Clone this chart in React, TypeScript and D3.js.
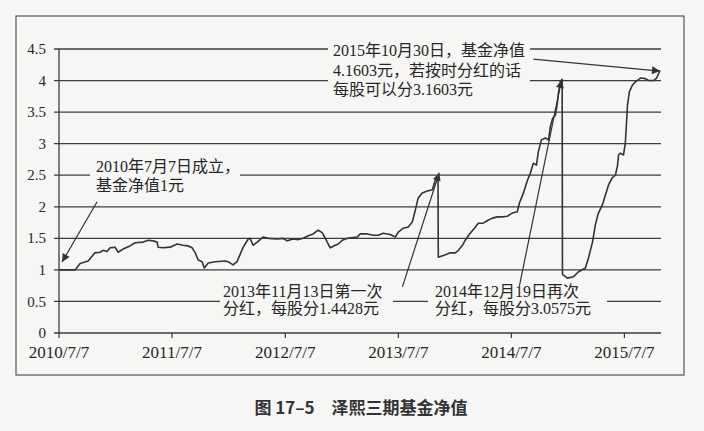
import React from "react";
import * as d3 from "d3";

const dates = [
  "2010-07-07","2010-08-28","2010-09-13","2010-10-09","2010-10-31","2010-11-17","2010-11-26","2010-12-09","2010-12-19",
  "2011-01-04","2011-01-14","2011-01-30","2011-02-21","2011-03-10","2011-04-05","2011-04-21","2011-05-07","2011-05-20",
  "2011-05-23","2011-06-08","2011-07-01","2011-07-23","2011-08-12","2011-08-28","2011-09-10","2011-09-20","2011-09-29",
  "2011-10-12","2011-10-19","2011-11-01","2011-11-23","2011-12-26","2012-01-04","2012-01-20","2012-02-02","2012-02-22",
  "2012-03-09","2012-03-15","2012-03-25","2012-04-07","2012-04-26","2012-05-13","2012-06-11","2012-06-30","2012-07-13",
  "2012-08-01","2012-08-18","2012-09-03","2012-09-19","2012-10-05","2012-10-21","2012-11-03","2012-11-13","2012-11-29",
  "2012-12-15","2012-12-25","2013-01-07","2013-01-23","2013-02-24","2013-03-06","2013-03-29","2013-04-17","2013-05-03",
  "2013-05-19","2013-06-11","2013-06-27","2013-07-07","2013-07-23","2013-08-08","2013-08-21","2013-08-31","2013-09-09",
  "2013-09-22","2013-10-09","2013-10-25","2013-11-03","2013-11-12","2013-11-13","2013-12-06","2013-12-22","2014-01-07",
  "2014-01-17","2014-01-30","2014-02-08","2014-02-24","2014-03-13","2014-03-22","2014-04-07","2014-04-24","2014-05-07",
  "2014-05-23","2014-06-08","2014-06-24","2014-07-10","2014-07-26","2014-08-02","2014-08-15","2014-08-28","2014-09-06",
  "2014-09-16","2014-09-26","2014-10-02","2014-10-12","2014-10-25","2014-11-04","2014-11-10","2014-11-17","2014-11-26",
  "2014-12-03","2014-12-06","2014-12-12","2014-12-18","2014-12-19","2015-01-04","2015-01-23","2015-02-09","2015-03-03",
  "2015-03-13","2015-03-26","2015-04-04","2015-04-14","2015-04-27","2015-05-07","2015-05-17","2015-05-29","2015-06-08",
  "2015-06-15","2015-06-18","2015-06-24","2015-07-04","2015-07-10","2015-07-14","2015-07-17","2015-07-23","2015-08-02",
  "2015-08-12","2015-08-28","2015-09-13","2015-09-23","2015-10-09","2015-10-19","2015-10-30",
];

const nav = [
  1.00,1.00,1.10,1.14,1.27,1.28,1.31,1.29,1.35,
  1.36,1.28,1.33,1.38,1.43,1.44,1.47,1.46,1.44,
  1.36,1.35,1.36,1.41,1.39,1.38,1.35,1.27,1.16,
  1.13,1.03,1.11,1.13,1.14,1.13,1.08,1.13,1.36,
  1.49,1.50,1.39,1.44,1.52,1.50,1.49,1.50,1.46,
  1.49,1.48,1.50,1.54,1.57,1.63,1.59,1.50,1.35,
  1.39,1.41,1.47,1.50,1.52,1.57,1.57,1.55,1.55,
  1.58,1.56,1.52,1.60,1.66,1.68,1.76,1.95,2.14,
  2.22,2.25,2.27,2.42,2.50,1.20,1.24,1.27,1.27,
  1.31,1.39,1.47,1.58,1.68,1.74,1.74,1.79,1.82,
  1.84,1.84,1.85,1.90,1.92,2.06,2.22,2.42,2.53,
  2.69,2.66,2.87,3.06,3.09,3.06,3.27,3.40,3.45,
  3.66,3.80,3.98,4.02,0.93,0.87,0.89,0.97,1.03,
  1.19,1.44,1.71,1.90,2.03,2.19,2.35,2.46,2.50,
  2.66,2.82,2.85,2.82,3.01,3.34,3.61,3.82,3.93,
  3.98,4.04,4.03,4.00,4.00,4.04,4.16,
];

const yTicks = [0, 0.5, 1, 1.5, 2, 2.5, 3, 3.5, 4, 4.5];
const xTickDates = ["2010-07-07","2011-07-07","2012-07-07","2013-07-07","2014-07-07","2015-07-07"];
const xTickLabels = ["2010/7/7","2011/7/7","2012/7/7","2013/7/7","2014/7/7","2015/7/7"];

const noteLaunch = ["2010年7月7日成立，", "基金净值1元"];
const noteFirst = ["2013年11月13日第一次", "分红，每股分1.4428元"];
const noteSecond = ["2014年12月19日再次", "分红，每股分3.0575元"];
const noteLast = ["2015年10月30日，基金净值", "4.1603元，若按时分红的话", "每股可以分3.1603元"];
const caption = "图 17–5　泽熙三期基金净值";

// arrow anchors in data space: [tailDate, tailValue, tipDate, tipValue]
const arrowLaunch = ["2010-11-07", 2.08, "2010-07-17", 1.125];
const arrowFirst = ["2013-07-20", 0.73, "2013-11-16", 2.54];
const arrowSecond = ["2014-08-02", 0.745, "2014-12-16", 4.01];
const arrowLast = ["2014-09-16", 4.34, "2015-10-30", 4.15];

const W = 704, H = 431;
const BG = "#f6f6f4";
const INK = "#333";
const SERIF = "'Liberation Serif', 'Times New Roman', 'Noto Sans CJK SC', serif";
const parse = d3.utcParse("%Y-%m-%d");

export default function App() {
  const x = d3.scaleUtc().domain([parse("2010-07-07")!, parse("2015-10-30")!]).range([59, 660]);
  const y = d3.scaleLinear().domain([0, 4.5]).range([333, 49]);
  const pts = dates.map((d, i) => [x(parse(d)!), y(nav[i])] as [number, number]);
  const line = d3.line().curve(d3.curveLinear)(pts) || "";

  const arrow = (a: (string | number)[], key: string) => (
    <line key={key}
      x1={x(parse(a[0] as string)!)} y1={y(a[1] as number)}
      x2={x(parse(a[2] as string)!)} y2={y(a[3] as number)}
      stroke={INK} strokeWidth={1.2} markerEnd="url(#ah)" />
  );

  const textBlock = (lines: string[], x0: number, y0: number, lh: number, key: string) => (
    <text key={key} x={x0} y={y0} fontFamily={SERIF} fontSize={16} fill="#262626">
      {lines.map((l, i) => (
        <tspan key={i} x={x0} y={y0 + i * lh}>{l}</tspan>
      ))}
    </text>
  );

  return (
    <div style={{ position: "fixed", left: 0, top: 0, width: W, height: H }}>
      <svg width={W} height={H} viewBox={`0 0 ${W} ${H}`}>
        <defs>
          <marker id="ah" viewBox="0 0 10 10" refX="10" refY="5" markerWidth="11" markerHeight="8"
            markerUnits="userSpaceOnUse" orient="auto">
            <path d="M0,0 L10,5 L0,10 Z" fill={INK} />
          </marker>
        </defs>
        <rect x={0} y={0} width={W} height={H} fill={BG} />
        <rect x={16} y={16} width={668} height={359} fill="none" stroke="#555" strokeWidth={1.2} />

        {/* grid lines */}
        {yTicks.map((t) => (
          <line key={"g" + t} x1={54} x2={661} y1={y(t)} y2={y(t)} stroke="#3c3c3c" strokeWidth={1.3} />
        ))}
        {/* y axis */}
        <line x1={59} x2={59} y1={y(4.5)} y2={y(0)} stroke="#3c3c3c" strokeWidth={1.3} />
        {yTicks.map((t) => (
          <text key={"yl" + t} x={46} y={y(t)} dy="0.34em" textAnchor="end" fontFamily={SERIF} fontSize={15} fill="#262626">
            {t}
          </text>
        ))}
        {xTickDates.map((d, i) => (
          <g key={"xt" + d}>
            <line x1={x(parse(d)!)} x2={x(parse(d)!)} y1={y(0)} y2={y(0) + 5} stroke="#3c3c3c" strokeWidth={1.2} />
            <text x={x(parse(d)!)} y={358} textAnchor="middle" fontFamily={SERIF} fontSize={17} fill="#262626">
              {xTickLabels[i]}
            </text>
          </g>
        ))}

        {/* label backgrounds that break grid lines */}
        <rect x={90} y={156} width={150} height={40} fill={BG} />
        <rect x={220} y={282} width={173} height={34} fill={BG} />
        <rect x={428} y={282} width={179} height={34} fill={BG} />
        <rect x={328} y={40} width={202} height={60} fill={BG} />

        <path d={line} fill="none" stroke="#333" strokeWidth={1.6} strokeLinejoin="round" />

        {arrow(arrowLaunch, "a1")}
        {arrow(arrowFirst, "a2")}
        {arrow(arrowSecond, "a3")}
        {arrow(arrowLast, "a4")}

        {textBlock(noteLaunch, 96, 172, 19, "n1")}
        {textBlock(noteFirst, 223, 297, 16.5, "n2")}
        {textBlock(noteSecond, 435, 297, 16.5, "n3")}
        {textBlock(noteLast, 333, 56, 19.5, "n4")}

        <text x={361} y={414} textAnchor="middle" fontFamily="'Noto Sans CJK SC', sans-serif" fontWeight="bold"
          fontSize={17} fill="#333">
          {caption}
        </text>
      </svg>
    </div>
  );
}
